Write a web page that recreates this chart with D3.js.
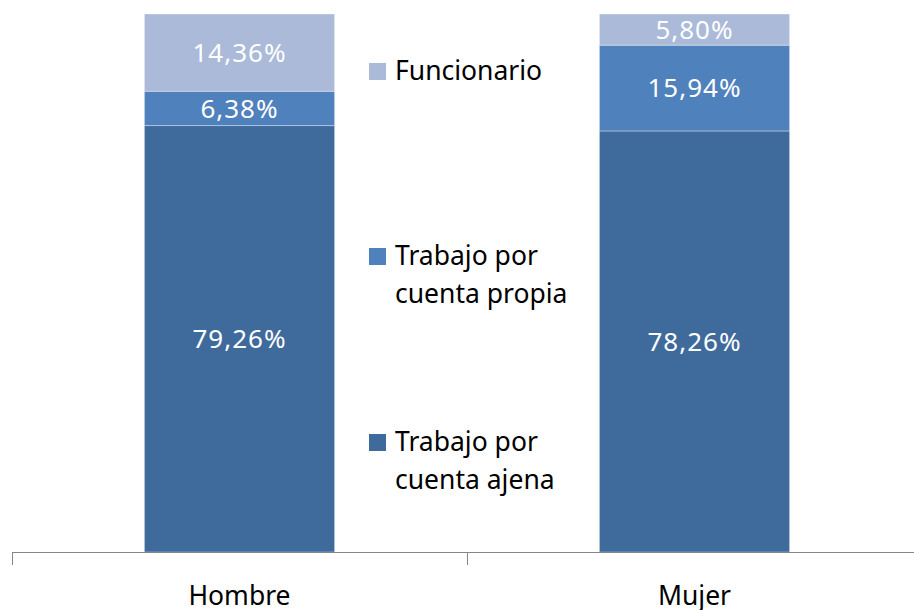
<!DOCTYPE html>
<html>
<head>
<meta charset="utf-8">
<script src="https://cdn.jsdelivr.net/npm/d3@7"></script>
<style>
  body { margin: 0; background: #fff; }
  text { font-family: "Noto Sans", "Open Sans", sans-serif; }
</style>
</head>
<body>
<div id="graf"></div>
<script>
// Datos
categorias = ['Hombre', 'Mujer']
series = ['Trabajo por cuenta ajena', 'Trabajo por cuenta propia', 'Funcionario']
ajena   = [79.26, 78.26]
propia  = [6.38, 15.94]
funcion = [14.36, 5.80]
etiquetas = [['Trabajo por', 'cuenta ajena'], ['Trabajo por', 'cuenta propia'], ['Funcionario']]

colores = ['#3F6A9C', '#4F81BD', '#AABAD8']

ancho_total = 914
alto_total = 610

svg = d3.select('#graf').append('svg')
        .attr('width', ancho_total)
        .attr('height', alto_total)

// -- Escaladores --
x = d3.scaleBand()
      .domain(categorias)
      .range([12, 922])
y = d3.scaleLinear()
      .domain([0, 100])
      .range([552, 14])

anchoBarra = x.bandwidth() * 0.418

tabla = categorias.map((c, i) => ({cat: c, 0: ajena[i], 1: propia[i], 2: funcion[i]}))
pila = d3.stack().keys([0, 1, 2])(tabla)

// Barras
capas = svg.selectAll('g.capa')
           .data(pila)
           .enter().append('g')
           .attr('class', 'capa')
           .style('fill', (d, i) => colores[i])

capas.selectAll('rect')
     .data(d => d)
     .enter().append('rect')
     .attr('x', d => x(d.data.cat) + (x.bandwidth() - anchoBarra) / 2)
     .attr('width', anchoBarra)
     .attr('y', d => y(d[1]))
     .attr('height', d => y(d[0]) - y(d[1]))
     .style('stroke', 'rgba(255,255,255,0.35)')
     .style('stroke-width', 1)

capas.selectAll('text')
     .data(d => d)
     .enter().append('text')
     .attr('x', d => x(d.data.cat) + x.bandwidth() / 2)
     .attr('y', d => (y(d[0]) + y(d[1])) / 2)
     .attr('dy', '0.36em')
     .attr('text-anchor', 'middle')
     .style('fill', '#fff')
     .style('font-size', '26px')
     .style('letter-spacing', '1px')
     .text(d => (d[1] - d[0]).toFixed(2).replace('.', ',') + '%')

// Eje X
ejeX = svg.append('g')
ejeX.append('line')
    .attr('x1', 12).attr('x2', 922)
    .attr('y1', 552.5).attr('y2', 552.5)
    .style('stroke', '#868686')
ejeX.selectAll('line.tick')
    .data(categorias.concat(['fin']))
    .enter().append('line')
    .attr('class', 'tick')
    .attr('x1', (d, i) => 12.5 + i * x.bandwidth())
    .attr('x2', (d, i) => 12.5 + i * x.bandwidth())
    .attr('y1', 552).attr('y2', 565)
    .style('stroke', '#868686')
ejeX.selectAll('text')
    .data(categorias)
    .enter().append('text')
    .attr('x', d => x(d) + x.bandwidth() / 2)
    .attr('y', 605)
    .attr('text-anchor', 'middle')
    .style('font-size', '26.5px')
    .style('fill', '#000')
    .text(d => d)

// Leyenda
posLeyenda = [434, 248, 63]
ley = svg.selectAll('g.ley')
         .data(series)
         .enter().append('g')
         .attr('class', 'ley')
         .attr('transform', (d, i) => `translate(369, ${posLeyenda[i]})`)
ley.append('rect')
   .attr('width', 17).attr('height', 17)
   .style('fill', (d, i) => colores[i])
ley.each(function (d, i) {
    t = d3.select(this).append('text')
          .style('font-size', '26.5px')
          .style('fill', '#000')
    etiquetas[i].forEach((l, j) => {
        t.append('tspan')
         .attr('x', 26)
         .attr('y', 17 + j * 38)
         .text(l)
    })
})
</script>
</body>
</html>
